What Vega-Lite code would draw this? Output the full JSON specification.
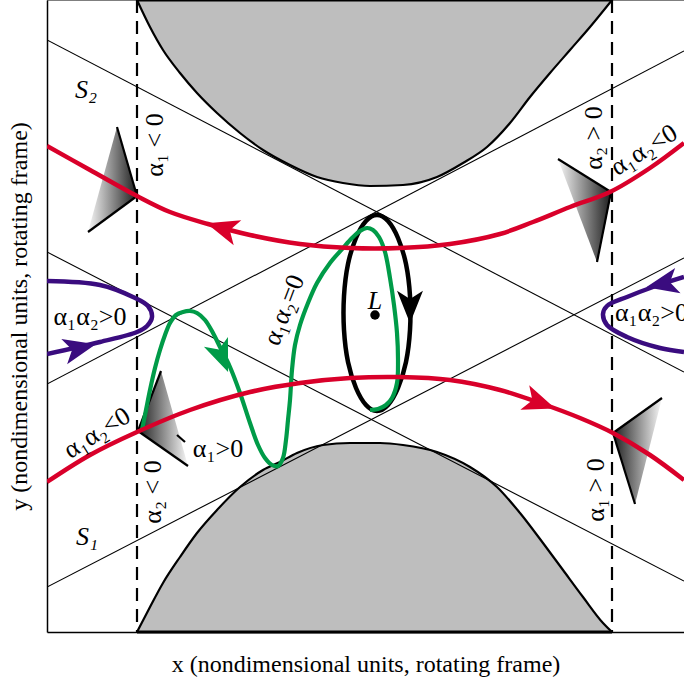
{
  "$schema": "https://vega.github.io/schema/vega-lite/v6.json",
  "width": 637,
  "height": 632,
  "autosize": {"type": "none"},
  "padding": {"left": 47, "top": 0, "right": 0, "bottom": 50},
  "background": "white",
  "config": {"view": {"stroke": null}, "font": "Liberation Serif"},
  "datasets": {
    "gray_top": [
      {"x": -2.37, "y": 3.16}, {"x": -2.24, "y": 2.89}, {"x": -2.11, "y": 2.66}, {"x": -1.94, "y": 2.43},
      {"x": -1.77, "y": 2.23}, {"x": -1.57, "y": 2.03}, {"x": -1.34, "y": 1.83}, {"x": -1.11, "y": 1.66},
      {"x": -0.84, "y": 1.51}, {"x": -0.57, "y": 1.39}, {"x": -0.31, "y": 1.33}, {"x": -0.04, "y": 1.30},
      {"x": 0.29, "y": 1.31}, {"x": 0.63, "y": 1.39}, {"x": 0.89, "y": 1.53}, {"x": 1.13, "y": 1.69},
      {"x": 1.36, "y": 1.93}, {"x": 1.56, "y": 2.19}, {"x": 1.76, "y": 2.43}, {"x": 1.96, "y": 2.66},
      {"x": 2.16, "y": 2.89}, {"x": 2.38, "y": 3.16}
    ],
    "gray_bottom": [
      {"x": -2.37, "y": -3.16}, {"x": -2.24, "y": -2.91}, {"x": -2.11, "y": -2.67}, {"x": -1.94, "y": -2.41},
      {"x": -1.77, "y": -2.17}, {"x": -1.57, "y": -1.94}, {"x": -1.34, "y": -1.71}, {"x": -1.11, "y": -1.54},
      {"x": -0.94, "y": -1.46}, {"x": -0.77, "y": -1.37}, {"x": -0.51, "y": -1.29}, {"x": -0.24, "y": -1.27},
      {"x": 0.06, "y": -1.27}, {"x": 0.29, "y": -1.29}, {"x": 0.63, "y": -1.36}, {"x": 0.96, "y": -1.51},
      {"x": 1.23, "y": -1.71}, {"x": 1.46, "y": -1.97}, {"x": 1.69, "y": -2.27}, {"x": 1.89, "y": -2.54},
      {"x": 2.09, "y": -2.81}, {"x": 2.29, "y": -3.07}, {"x": 2.38, "y": -3.16}
    ],
    "segments": [
      {"kind": "thin", "x": -3.27, "y": 2.76, "x2": 3.10, "y2": -0.56},
      {"kind": "thin", "x": -3.27, "y": -0.68, "x2": 3.10, "y2": 2.65},
      {"kind": "thin", "x": -3.27, "y": 0.64, "x2": 3.10, "y2": -2.65},
      {"kind": "thin", "x": -3.27, "y": -2.71, "x2": 3.10, "y2": 0.58},
      {"kind": "frame", "x": -3.27, "y": 3.16, "x2": 3.10, "y2": 3.16},
      {"kind": "dash", "x": -2.37, "y": 3.16, "x2": -2.37, "y2": -3.16},
      {"kind": "dash", "x": 2.38, "y": 3.16, "x2": 2.38, "y2": -3.16},
      {"kind": "thick", "x": -2.37, "y": 3.16, "x2": 2.38, "y2": 3.16},
      {"kind": "thick", "x": -2.37, "y": -3.16, "x2": 2.38, "y2": -3.16},
      {"kind": "edge", "x": -2.37, "y": 1.20, "x2": -2.57, "y2": 1.89},
      {"kind": "edge", "x": -2.37, "y": 1.20, "x2": -2.86, "y2": 0.84},
      {"kind": "edge", "x": 2.37, "y": 1.24, "x2": 1.84, "y2": 1.57},
      {"kind": "edge", "x": 2.37, "y": 1.24, "x2": 2.23, "y2": 0.54},
      {"kind": "edge", "x": -2.36, "y": -1.15, "x2": -1.86, "y2": -1.50},
      {"kind": "edge", "x": -2.36, "y": -1.15, "x2": -2.13, "y2": -0.55},
      {"kind": "edge", "x": 2.39, "y": -1.17, "x2": 2.88, "y2": -0.82},
      {"kind": "edge", "x": 2.39, "y": -1.17, "x2": 2.61, "y2": -1.88},
      {"kind": "edge", "x": -1.97, "y": -1.19, "x2": -1.89, "y2": -1.26}
    ],
    "cones": [
      {"cone": "UL", "shade": "up", "x": -2.86, "y": 0.84, "y2": 0.84},
      {"cone": "UL", "shade": "up", "x": -2.57, "y": 1.89, "y2": 1.05},
      {"cone": "UL", "shade": "up", "x": -2.37, "y": 1.20, "y2": 1.20},
      {"cone": "UR", "shade": "up", "x": 1.84, "y": 1.57, "y2": 1.57},
      {"cone": "UR", "shade": "up", "x": 2.23, "y": 1.33, "y2": 0.54},
      {"cone": "UR", "shade": "up", "x": 2.37, "y": 1.24, "y2": 1.24},
      {"cone": "LL", "shade": "down", "x": -2.36, "y": -1.15, "y2": -1.15},
      {"cone": "LL", "shade": "down", "x": -2.13, "y": -0.55, "y2": -1.31},
      {"cone": "LL", "shade": "down", "x": -1.86, "y": -1.50, "y2": -1.50},
      {"cone": "LR", "shade": "down", "x": 2.39, "y": -1.17, "y2": -1.17},
      {"cone": "LR", "shade": "down", "x": 2.61, "y": -1.01, "y2": -1.88},
      {"cone": "LR", "shade": "down", "x": 2.88, "y": -0.82, "y2": -0.82}
    ],
    "traj": [
      {"curve": "red_upper", "i": 0, "x": -3.27, "y": 1.70},
      {"curve": "red_upper", "i": 1, "x": -2.84, "y": 1.46},
      {"curve": "red_upper", "i": 2, "x": -2.37, "y": 1.20},
      {"curve": "red_upper", "i": 3, "x": -2.04, "y": 1.04},
      {"curve": "red_upper", "i": 4, "x": -1.66, "y": 0.92},
      {"curve": "red_upper", "i": 5, "x": -1.24, "y": 0.81},
      {"curve": "red_upper", "i": 6, "x": -0.74, "y": 0.72},
      {"curve": "red_upper", "i": 7, "x": -0.24, "y": 0.68},
      {"curve": "red_upper", "i": 8, "x": 0.26, "y": 0.68},
      {"curve": "red_upper", "i": 9, "x": 0.76, "y": 0.72},
      {"curve": "red_upper", "i": 10, "x": 1.26, "y": 0.82},
      {"curve": "red_upper", "i": 11, "x": 1.59, "y": 0.94},
      {"curve": "red_upper", "i": 12, "x": 1.96, "y": 1.09},
      {"curve": "red_upper", "i": 13, "x": 2.36, "y": 1.24},
      {"curve": "red_upper", "i": 14, "x": 2.76, "y": 1.48},
      {"curve": "red_upper", "i": 15, "x": 3.10, "y": 1.73},
      {"curve": "red_lower", "i": 0, "x": -3.27, "y": -1.66},
      {"curve": "red_lower", "i": 1, "x": -2.84, "y": -1.39},
      {"curve": "red_lower", "i": 2, "x": -2.37, "y": -1.16},
      {"curve": "red_lower", "i": 3, "x": -1.84, "y": -0.94},
      {"curve": "red_lower", "i": 4, "x": -1.24, "y": -0.76},
      {"curve": "red_lower", "i": 5, "x": -0.74, "y": -0.67},
      {"curve": "red_lower", "i": 6, "x": -0.24, "y": -0.62},
      {"curve": "red_lower", "i": 7, "x": 0.26, "y": -0.61},
      {"curve": "red_lower", "i": 8, "x": 0.76, "y": -0.64},
      {"curve": "red_lower", "i": 9, "x": 1.26, "y": -0.74},
      {"curve": "red_lower", "i": 10, "x": 1.66, "y": -0.87},
      {"curve": "red_lower", "i": 11, "x": 2.06, "y": -1.02},
      {"curve": "red_lower", "i": 12, "x": 2.39, "y": -1.17},
      {"curve": "red_lower", "i": 13, "x": 2.76, "y": -1.39},
      {"curve": "red_lower", "i": 14, "x": 3.10, "y": -1.64},
      {"curve": "purple_left", "i": 0, "x": -3.27, "y": 0.35},
      {"curve": "purple_left", "i": 1, "x": -2.74, "y": 0.31},
      {"curve": "purple_left", "i": 2, "x": -2.41, "y": 0.19},
      {"curve": "purple_left", "i": 3, "x": -2.26, "y": 0.10},
      {"curve": "purple_left", "i": 4, "x": -2.22, "y": -0.01},
      {"curve": "purple_left", "i": 5, "x": -2.27, "y": -0.10},
      {"curve": "purple_left", "i": 6, "x": -2.37, "y": -0.16},
      {"curve": "purple_left", "i": 7, "x": -2.74, "y": -0.26},
      {"curve": "purple_left", "i": 8, "x": -3.27, "y": -0.38},
      {"curve": "purple_right", "i": 0, "x": 3.10, "y": 0.39},
      {"curve": "purple_right", "i": 1, "x": 2.79, "y": 0.29},
      {"curve": "purple_right", "i": 2, "x": 2.53, "y": 0.19},
      {"curve": "purple_right", "i": 3, "x": 2.33, "y": 0.10},
      {"curve": "purple_right", "i": 4, "x": 2.29, "y": 0.02},
      {"curve": "purple_right", "i": 5, "x": 2.33, "y": -0.09},
      {"curve": "purple_right", "i": 6, "x": 2.53, "y": -0.21},
      {"curve": "purple_right", "i": 7, "x": 2.86, "y": -0.32},
      {"curve": "purple_right", "i": 8, "x": 3.10, "y": -0.36},
      {"curve": "green", "i": 0, "x": -2.32, "y": -1.14},
      {"curve": "green", "i": 1, "x": -2.28, "y": -0.94},
      {"curve": "green", "i": 2, "x": -2.24, "y": -0.74},
      {"curve": "green", "i": 3, "x": -2.19, "y": -0.52},
      {"curve": "green", "i": 4, "x": -2.14, "y": -0.34},
      {"curve": "green", "i": 5, "x": -2.09, "y": -0.19},
      {"curve": "green", "i": 6, "x": -2.04, "y": -0.07},
      {"curve": "green", "i": 7, "x": -1.98, "y": 0.01},
      {"curve": "green", "i": 8, "x": -1.91, "y": 0.04},
      {"curve": "green", "i": 9, "x": -1.84, "y": 0.05},
      {"curve": "green", "i": 10, "x": -1.77, "y": 0.03},
      {"curve": "green", "i": 11, "x": -1.69, "y": -0.04},
      {"curve": "green", "i": 12, "x": -1.61, "y": -0.17},
      {"curve": "green", "i": 13, "x": -1.54, "y": -0.31},
      {"curve": "green", "i": 14, "x": -1.44, "y": -0.51},
      {"curve": "green", "i": 15, "x": -1.34, "y": -0.77},
      {"curve": "green", "i": 16, "x": -1.24, "y": -1.07},
      {"curve": "green", "i": 17, "x": -1.16, "y": -1.29},
      {"curve": "green", "i": 18, "x": -1.09, "y": -1.42},
      {"curve": "green", "i": 19, "x": -1.02, "y": -1.49},
      {"curve": "green", "i": 20, "x": -0.96, "y": -1.50},
      {"curve": "green", "i": 21, "x": -0.91, "y": -1.42},
      {"curve": "green", "i": 22, "x": -0.88, "y": -1.24},
      {"curve": "green", "i": 23, "x": -0.86, "y": -1.04},
      {"curve": "green", "i": 24, "x": -0.84, "y": -0.84},
      {"curve": "green", "i": 25, "x": -0.82, "y": -0.54},
      {"curve": "green", "i": 26, "x": -0.79, "y": -0.29},
      {"curve": "green", "i": 27, "x": -0.74, "y": -0.09},
      {"curve": "green", "i": 28, "x": -0.66, "y": 0.13},
      {"curve": "green", "i": 29, "x": -0.57, "y": 0.33},
      {"curve": "green", "i": 30, "x": -0.44, "y": 0.53},
      {"curve": "green", "i": 31, "x": -0.31, "y": 0.68},
      {"curve": "green", "i": 32, "x": -0.22, "y": 0.78},
      {"curve": "green", "i": 33, "x": -0.14, "y": 0.85},
      {"curve": "green", "i": 34, "x": -0.07, "y": 0.88},
      {"curve": "green", "i": 35, "x": -0.01, "y": 0.86},
      {"curve": "green", "i": 36, "x": 0.05, "y": 0.79},
      {"curve": "green", "i": 37, "x": 0.11, "y": 0.64},
      {"curve": "green", "i": 38, "x": 0.16, "y": 0.38},
      {"curve": "green", "i": 39, "x": 0.20, "y": 0.11},
      {"curve": "green", "i": 40, "x": 0.23, "y": -0.17},
      {"curve": "green", "i": 41, "x": 0.24, "y": -0.44},
      {"curve": "green", "i": 42, "x": 0.23, "y": -0.67},
      {"curve": "green", "i": 43, "x": 0.18, "y": -0.82},
      {"curve": "green", "i": 44, "x": 0.12, "y": -0.89},
      {"curve": "green", "i": 45, "x": 0.04, "y": -0.93},
      {"curve": "green", "i": 46, "x": -0.04, "y": -0.94},
      {"curve": "ellipse", "i": 0, "x": 0.03, "y": 1.01},
      {"curve": "ellipse", "i": 1, "x": 0.14, "y": 0.95},
      {"curve": "ellipse", "i": 2, "x": 0.24, "y": 0.78},
      {"curve": "ellipse", "i": 3, "x": 0.32, "y": 0.52},
      {"curve": "ellipse", "i": 4, "x": 0.36, "y": 0.20},
      {"curve": "ellipse", "i": 5, "x": 0.36, "y": -0.14},
      {"curve": "ellipse", "i": 6, "x": 0.32, "y": -0.46},
      {"curve": "ellipse", "i": 7, "x": 0.24, "y": -0.72},
      {"curve": "ellipse", "i": 8, "x": 0.14, "y": -0.89},
      {"curve": "ellipse", "i": 9, "x": 0.03, "y": -0.95},
      {"curve": "ellipse", "i": 10, "x": -0.08, "y": -0.89},
      {"curve": "ellipse", "i": 11, "x": -0.18, "y": -0.72},
      {"curve": "ellipse", "i": 12, "x": -0.26, "y": -0.46},
      {"curve": "ellipse", "i": 13, "x": -0.30, "y": -0.14},
      {"curve": "ellipse", "i": 14, "x": -0.30, "y": 0.20},
      {"curve": "ellipse", "i": 15, "x": -0.26, "y": 0.52},
      {"curve": "ellipse", "i": 16, "x": -0.18, "y": 0.78},
      {"curve": "ellipse", "i": 17, "x": -0.08, "y": 0.95}
    ],
    "arrows": [
      {"curve": "red", "x": -1.52, "y": 0.88, "dir": 197},
      {"curve": "red", "x": 1.66, "y": -0.87, "dir": 20},
      {"curve": "purple", "x": -2.94, "y": -0.32, "dir": 347},
      {"curve": "purple", "x": 2.88, "y": 0.32, "dir": 168},
      {"curve": "green", "x": -1.52, "y": -0.41, "dir": 68},
      {"curve": "black", "x": 0.36, "y": 0.09, "dir": 90}
    ],
    "points": [{"name": "L", "x": 0.01, "y": 0.01}],
    "labels": [
      {"g": "italic", "text": "S₂", "x": -2.88, "y": 2.26},
      {"g": "italic", "text": "S₁", "x": -2.87, "y": -2.21},
      {"g": "italic", "text": "L", "x": 0.01, "y": 0.15},
      {"g": "h", "text": "α₁α₂>0", "x": -2.84, "y": -0.01},
      {"g": "h", "text": "α₁>0", "x": -1.56, "y": -1.33},
      {"g": "hleft", "text": "α₁α₂>0", "x": 2.41, "y": 0.03},
      {"g": "v", "text": "α₁ < 0", "x": -2.19, "y": 1.71},
      {"g": "v", "text": "α₂ > 0", "x": 2.20, "y": 1.78},
      {"g": "v", "text": "α₂ < 0", "x": -2.21, "y": -1.76},
      {"g": "v", "text": "α₁ > 0", "x": 2.22, "y": -1.74},
      {"g": "d32", "text": "α₁α₂<0", "x": 2.70, "y": 1.66},
      {"g": "d32", "text": "α₁α₂<0", "x": -2.77, "y": -1.17},
      {"g": "d69", "text": "α₁α₂=0", "x": -0.90, "y": 0.06}
    ]
  },
  "encoding": {
    "x": {
      "field": "x", "type": "quantitative",
      "scale": {"domain": [-3.27, 3.10], "nice": false, "zero": false},
      "axis": {"title": "x (nondimensional units, rotating frame)", "labels": false, "ticks": false, "grid": false,
               "domain": true, "domainColor": "black", "domainWidth": 1.5,
               "titleFont": "Liberation Serif", "titleFontSize": 24, "titleFontWeight": "normal", "titleColor": "black", "titlePadding": 20}
    },
    "y": {
      "field": "y", "type": "quantitative",
      "scale": {"domain": [-3.16, 3.16], "nice": false, "zero": false},
      "axis": {"title": "y (nondimensional units, rotating frame)", "labels": false, "ticks": false, "grid": false,
               "domain": true, "domainColor": "black", "domainWidth": 1.5,
               "titleFont": "Liberation Serif", "titleFontSize": 24, "titleFontWeight": "normal", "titleColor": "black", "titlePadding": 16}
    }
  },
  "layer": [
    {"data": {"name": "gray_top"}, "mark": {"type": "area", "color": "#bebebe", "interpolate": "monotone"}, "encoding": {"y2": {"datum": 3.16}}},
    {"data": {"name": "gray_bottom"}, "mark": {"type": "area", "color": "#bebebe", "interpolate": "monotone"}, "encoding": {"y2": {"datum": -3.16}}},
    {"data": {"name": "gray_top"}, "mark": {"type": "line", "color": "black", "strokeWidth": 2.2, "interpolate": "monotone"}, "encoding": {}},
    {"data": {"name": "gray_bottom"}, "mark": {"type": "line", "color": "black", "strokeWidth": 2.2, "interpolate": "monotone"}, "encoding": {}},
    {"data": {"name": "segments"}, "transform": [{"filter": "datum.kind == 'thin' || datum.kind == 'frame'"}],
     "mark": {"type": "rule", "color": "black", "strokeWidth": 1.1, "clip": true}, "encoding": {"x2": {"field": "x2"}, "y2": {"field": "y2"}}},
    {"data": {"name": "segments"}, "transform": [{"filter": "datum.kind == 'thick'"}],
     "mark": {"type": "rule", "color": "black", "strokeWidth": 3}, "encoding": {"x2": {"field": "x2"}, "y2": {"field": "y2"}}},
    {"data": {"name": "segments"}, "transform": [{"filter": "datum.kind == 'dash'"}],
     "mark": {"type": "rule", "color": "black", "strokeWidth": 2.2, "strokeDash": [13, 8]}, "encoding": {"x2": {"field": "x2"}, "y2": {"field": "y2"}}},
    {"data": {"name": "cones"}, "transform": [{"filter": "datum.shade == 'up'"}],
     "mark": {"type": "area", "interpolate": "linear",
              "fill": {"gradient": "linear", "x1": 0, "y1": 0, "x2": 1, "y2": 0,
                       "stops": [{"offset": 0, "color": "#f8f8f8"}, {"offset": 1, "color": "#1e1e1e"}]}},
     "encoding": {"y2": {"field": "y2"}, "detail": {"field": "cone"}}},
    {"data": {"name": "cones"}, "transform": [{"filter": "datum.shade == 'down'"}],
     "mark": {"type": "area", "interpolate": "linear",
              "fill": {"gradient": "linear", "x1": 0, "y1": 0, "x2": 1, "y2": 0,
                       "stops": [{"offset": 0, "color": "#1e1e1e"}, {"offset": 1, "color": "#f8f8f8"}]}},
     "encoding": {"y2": {"field": "y2"}, "detail": {"field": "cone"}}},
    {"data": {"name": "segments"}, "transform": [{"filter": "datum.kind == 'edge'"}],
     "mark": {"type": "rule", "color": "black", "strokeWidth": 2.2}, "encoding": {"x2": {"field": "x2"}, "y2": {"field": "y2"}}},
    {"data": {"name": "traj"}, "transform": [{"filter": "datum.curve == 'purple_left' || datum.curve == 'purple_right'"}],
     "mark": {"type": "line", "color": "#3a0c7f", "strokeWidth": 4.5, "interpolate": "catmull-rom", "clip": true},
     "encoding": {"order": {"field": "i"}, "detail": {"field": "curve"}}},
    {"data": {"name": "traj"}, "transform": [{"filter": "datum.curve == 'ellipse'"}],
     "mark": {"type": "line", "color": "black", "strokeWidth": 4.5, "interpolate": "cardinal-closed"},
     "encoding": {"order": {"field": "i"}}},
    {"data": {"name": "traj"}, "transform": [{"filter": "datum.curve == 'green'"}],
     "mark": {"type": "line", "color": "#009b48", "strokeWidth": 4.2, "interpolate": "catmull-rom"},
     "encoding": {"order": {"field": "i"}}},
    {"data": {"name": "traj"}, "transform": [{"filter": "datum.curve == 'red_upper' || datum.curve == 'red_lower'"}],
     "mark": {"type": "line", "color": "#d9002a", "strokeWidth": 4.5, "interpolate": "catmull-rom", "clip": true},
     "encoding": {"order": {"field": "i"}, "detail": {"field": "curve"}}},
    {"data": {"name": "arrows"},
     "mark": {"type": "point", "shape": "M1,0L-1,-0.8L-0.5,0L-1,0.8Z", "filled": true, "opacity": 1, "size": 1050, "clip": true},
     "encoding": {
       "angle": {"field": "dir", "type": "quantitative", "scale": null},
       "color": {"field": "curve", "type": "nominal", "legend": null,
                 "scale": {"domain": ["red", "purple", "green", "black"], "range": ["#d9002a", "#3a0c7f", "#009b48", "black"]}}
     }},
    {"data": {"name": "points"}, "mark": {"type": "point", "shape": "circle", "filled": true, "color": "black", "opacity": 1, "size": 90}, "encoding": {}},
    {"data": {"name": "labels"}, "transform": [{"filter": "datum.g == 'italic'"}],
     "mark": {"type": "text", "font": "Liberation Serif", "fontSize": 26, "fontStyle": "italic", "color": "black", "align": "center", "baseline": "middle"},
     "encoding": {"text": {"field": "text"}}},
    {"data": {"name": "labels"}, "transform": [{"filter": "datum.g == 'h'"}],
     "mark": {"type": "text", "font": "Liberation Serif", "fontSize": 26, "color": "black", "align": "center", "baseline": "middle"},
     "encoding": {"text": {"field": "text"}}},
    {"data": {"name": "labels"}, "transform": [{"filter": "datum.g == 'hleft'"}],
     "mark": {"type": "text", "font": "Liberation Serif", "fontSize": 26, "color": "black", "align": "left", "baseline": "middle", "clip": true},
     "encoding": {"text": {"field": "text"}}},
    {"data": {"name": "labels"}, "transform": [{"filter": "datum.g == 'v'"}],
     "mark": {"type": "text", "font": "Liberation Serif", "fontSize": 26, "color": "black", "align": "center", "baseline": "middle", "angle": 270},
     "encoding": {"text": {"field": "text"}}},
    {"data": {"name": "labels"}, "transform": [{"filter": "datum.g == 'd32'"}],
     "mark": {"type": "text", "font": "Liberation Serif", "fontSize": 26, "color": "black", "align": "center", "baseline": "middle", "angle": 328},
     "encoding": {"text": {"field": "text"}}},
    {"data": {"name": "labels"}, "transform": [{"filter": "datum.g == 'd69'"}],
     "mark": {"type": "text", "font": "Liberation Serif", "fontSize": 26, "color": "black", "align": "center", "baseline": "middle", "angle": 291},
     "encoding": {"text": {"field": "text"}}}
  ]
}
